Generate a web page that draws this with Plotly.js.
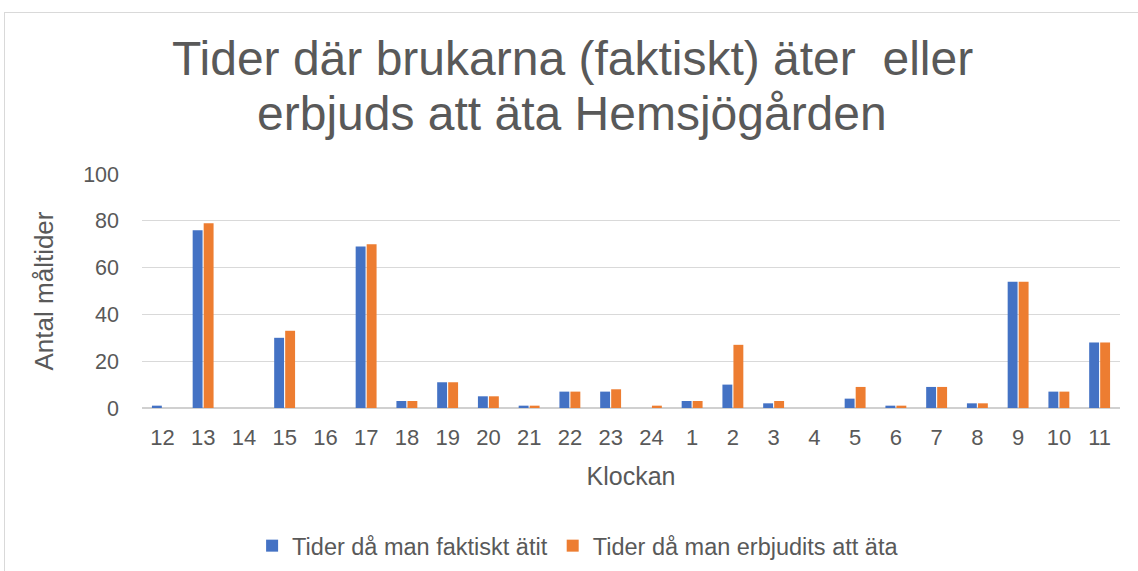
<!DOCTYPE html>
<html>
<head>
<meta charset="utf-8">
<script src="https://cdn.plot.ly/plotly-3.0.1.min.js"></script>
<style>
html,body{margin:0;padding:0;background:#fff;overflow:hidden;}
#chart{width:1138px;height:571px;position:absolute;left:0;top:0;}
#frame{position:absolute;left:4px;top:12px;width:1200px;height:700px;border:1px solid #d9d9d9;pointer-events:none;}
</style>
</head>
<body>
<div id="chart"></div>
<div id="frame"></div>
<script>
const categories = ["12","13","14","15","16","17","18","19","20","21","22","23","24","1","2","3","4","5","6","7","8","9","10","11"];
const actualMeals = [1,76,0,30,0,69,3,11,5,1,7,7,0,3,10,2,0,4,1,9,2,54,7,28];
const offeredMeals = [0,79,0,33,0,70,3,11,5,1,7,8,1,3,27,3,0,9,1,9,2,54,7,28];
const seriesNames = ["Tider då man faktiskt ätit","Tider då man erbjudits att äta"];
const titleLines = ["Tider där brukarna (faktiskt) äter  eller","erbjuds att äta Hemsjögården"];
const yTicks = [0,20,40,60,80,100];

const font = "Liberation Sans, Arial, sans-serif";
const grey = "#595959";

const data = [
  {type:"bar", x:categories, y:actualMeals, name:seriesNames[0], marker:{color:"#4472C4"}},
  {type:"bar", x:categories, y:offeredMeals, name:seriesNames[1], marker:{color:"#ED7D31"}}
];

const layout = {
  width:1138, height:571,
  margin:{l:142, r:18, t:173.5, b:163},
  paper_bgcolor:"rgba(0,0,0,0)", plot_bgcolor:"#fff",
  font:{family:font, color:grey},
  barmode:"group", bargap:0.46, bargroupgap:0.1,
  annotations:[
    {text:titleLines[0], xref:"paper", yref:"paper", x:0.44, y:1.492, xanchor:"center", yanchor:"middle",
     showarrow:false, font:{size:48, color:grey, family:font}},
    {text:titleLines[1], xref:"paper", yref:"paper", x:0.44, y:1.258, xanchor:"center", yanchor:"middle",
     showarrow:false, font:{size:48, color:grey, family:font}}
  ],
  xaxis:{type:"category", categoryorder:"array", categoryarray:categories,
         tickfont:{size:22, color:grey}, ticks:"", showgrid:false, showline:false, zeroline:false,
         ticklabelstandoff:14,
         title:{text:"Klockan", font:{size:25, color:grey}, standoff:18}},
  yaxis:{range:[0,100], tickvals:yTicks, ticktext:yTicks.map(String),
         tickfont:{size:21.5, color:grey}, ticks:"", showline:false, ticklabelstandoff:22,
         gridcolor:"#d9d9d9", gridwidth:1.3, zeroline:true, zerolinecolor:"#d0d0d0", zerolinewidth:1.5,
         title:{text:"Antal måltider", font:{size:26, color:grey}, standoff:22}},
  showlegend:true,
  legend:{orientation:"h", xref:"container", yref:"container", x:0.508, xanchor:"center", y:0.044, yanchor:"middle",
          font:{size:23.5, color:grey}, itemwidth:30, tracegroupgap:0, bgcolor:"rgba(0,0,0,0)"}
};

Plotly.newPlot("chart", data, layout, {displayModeBar:false, staticPlot:true});
</script>
</body>
</html>
